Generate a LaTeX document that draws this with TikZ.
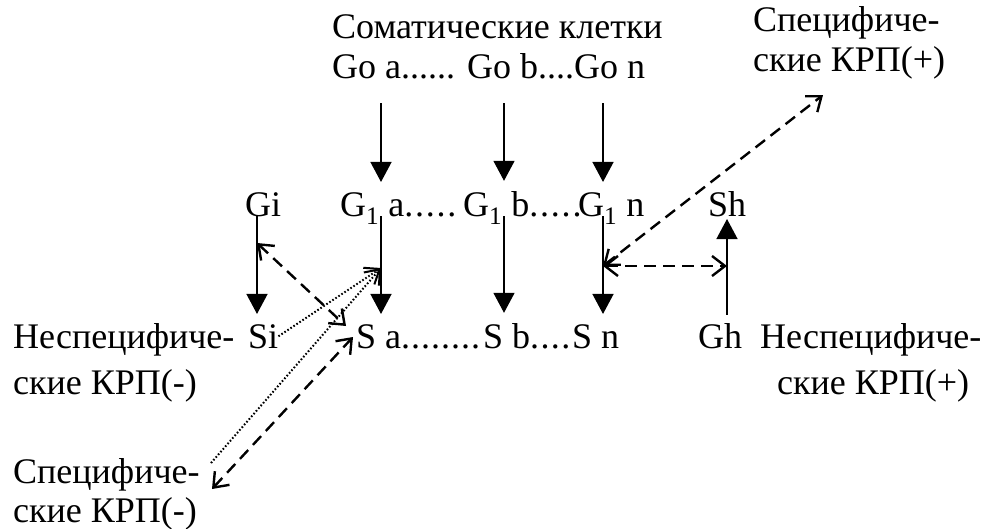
\documentclass[tikz,border=0pt]{standalone}
\usepackage{fontspec}
\setmainfont{Liberation Serif}
\usetikzlibrary{arrows.meta}
\newcommand\spdot[1][1.8pt]{.\kern#1}

\begin{document}
\begin{tikzpicture}[x=1pt, y=-1pt,
  every node/.style={font=\fontsize{36}{40}\selectfont, inner sep=0pt, anchor=base west},
  vline/.style={line width=1.4pt, -{Triangle[width=21pt,length=20pt]}},
  dashline/.style={line width=2.4pt, dash pattern=on 12pt off 7pt,
    {Straight Barb[length=13pt,width=20pt]}-{Straight Barb[length=13pt,width=20pt]}},
  dotline/.style={line width=2pt, dash pattern=on 1.6pt off 2pt,
    -{Straight Barb[length=13pt,width=20pt]}}]
\useasboundingbox (0,0) rectangle (982,528);

% top: somatic cells
\node (som) at (332,38) {Соматические клетки};
\node (go) at (332,78) {Go a...... Go b....Go n};
\node (spt1) at (753,31) {Специфиче-};
\node (spt2) at (753,71) {ские КРП(+)};

% middle row
\node (gi) at (245,216) {Gi};
\node (g1a) at (340,216) {G\textsubscript{1} a\spdot\spdot\spdot\spdot\spdot};
\node (g1b) at (463,216) {G\textsubscript{1} b\spdot\spdot\spdot\spdot\spdot};
\node (g1n) at (578,216) {G\textsubscript{1} n};
\node (sh) at (708,216) {Sh};

% bottom row
\node (nl1) at (13,348) {Неспецифиче-};
\node (nl2) at (13,394) {ские КРП(-)};
\node (si) at (248,348) {Si};
\node (sa) at (356,348) {S a\spdot[1pt]\spdot[1pt]\spdot[1pt]\spdot[1pt]\spdot[1pt]\spdot[1pt]\spdot[1pt]\spdot[1pt]};
\node (sb) at (483,348) {S b\spdot[1.4pt]\spdot[1.4pt]\spdot[1.4pt]\spdot[1.4pt]};
\node (sn) at (572,348) {S n};
\node (gh) at (698,348) {Gh};
\node (nr1) at (760,348) {Неспецифиче-};
\node (nr2) at (777,394) {ские КРП(+)};

% bottom left
\node (spb1) at (13,483) {Специфиче-};
\node (spb2) at (13,522) {ские КРП(-)};

% columns of the vertical arrows
\coordinate (ci) at (257,0);
\coordinate (ca) at (381,0);
\coordinate (cb) at (504,0);
\coordinate (cn) at (603,0);
\coordinate (ch) at (727,0);

% points where the broken arrows end
\coordinate (pi) at (257,243);
\coordinate (pa) at (381,268);
\coordinate (pn) at (603,266);
\coordinate (ph) at (727,266);
\coordinate (qs) at (346,326);
\coordinate (qa) at (353,337);
\coordinate (qb) at (212,489);
\coordinate (qd) at (211,463);
\coordinate (qt) at (823,95);

\foreach \g/\s/\c in {g1a/sa/ca, g1b/sb/cb, g1n/sn/cn} {
  \draw[vline, shorten <=25pt, shorten >=10pt] (go.base -| \c) -- (\g.north -| \c);
  \draw[vline, shorten >=10pt] (\g.base -| \c) -- (\s.north -| \c);
}
\draw[vline, shorten >=10pt] (gi.base -| ci) -- (si.north -| ci);
\draw[vline, shorten <=8pt, shorten >=3pt] (gh.north -| ch) -- (sh.base -| ch);

% dashed and dotted links
\draw[dashline] (pi) -- (qs);
\draw[dashline] (qb) -- (qa);
\draw[dashline] (pn) -- (qt);
\draw[dashline] (pn) -- (ph);
\draw[dotline] (si.east) -- (pa);
\draw[dotline] (qd) -- (pa);

\end{tikzpicture}
\end{document}
